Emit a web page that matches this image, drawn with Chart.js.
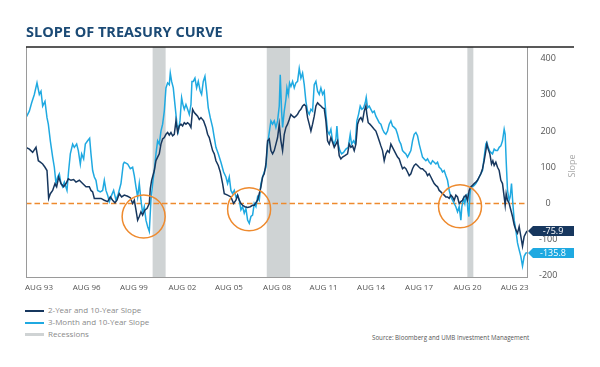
<!DOCTYPE html>
<html>
<head>
<meta charset="utf-8">
<script src="https://cdn.jsdelivr.net/npm/chart.js@4.4.0/dist/chart.umd.min.js"></script>
<style>
  body { margin: 0; background: #fff; }
  #wrap { position: relative; width: 600px; height: 367px; overflow: hidden; font-family: "Open Sans", sans-serif; }
  #title { position: absolute; left: 26px; top: 25px; margin: 0; font-size: 14.5px; line-height: 14.5px; font-weight: 700; color: #1b4a75; z-index: 2; }
  #chart { position: absolute; left: 0; top: 0; }
  .leg { position: absolute; left: 25px; font-size: 8px; line-height: 12px; color: #8a8a8a; white-space: nowrap; }
  .leg .sw { display: inline-block; width: 19px; height: 2px; vertical-align: middle; margin-right: 4px; }
  #source { position: absolute; left: 372px; top: 333px; font-size: 6.2px; color: #555; white-space: nowrap; }
</style>
</head>
<body>
<div id="wrap">
  <h1 id="title">SLOPE OF TREASURY CURVE</h1>
  <canvas id="chart" width="600" height="300"></canvas>
  <div class="leg" style="top:304px"><span class="sw" style="background:#17375e"></span>2-Year and 10-Year Slope</div>
  <div class="leg" style="top:316px"><span class="sw" style="background:#1fa9e1"></span>3-Month and 10-Year Slope</div>
  <div class="leg" style="top:328px"><span class="sw" style="background:#cfd3d4;height:3px"></span>Recessions</div>
  <div id="source">Source: Bloomberg and UMB Investment Management</div>
</div>
<script>
// 2-year / 10-year slope (bp)
const navyYears = [
  1993.58, 1993.78, 1993.98, 1994.18, 1994.32, 1994.44, 1994.58, 1994.72, 1994.84, 1994.94,
  1995.04, 1995.18, 1995.32, 1995.42, 1995.54, 1995.68, 1995.84, 1995.98, 1996.12, 1996.28,
  1996.44, 1996.58, 1996.78, 1996.98, 1997.18, 1997.38, 1997.48, 1997.58, 1997.68, 1997.88,
  1998.08, 1998.28, 1998.48, 1998.64, 1998.78, 1998.92, 1999.04, 1999.18, 1999.32, 1999.48,
  1999.68, 1999.84, 1999.98, 2000.08, 2000.18, 2000.28, 2000.38, 2000.48, 2000.58, 2000.72,
  2000.84, 2000.98, 2001.04, 2001.12, 2001.28, 2001.38, 2001.48, 2001.58, 2001.68, 2001.78,
  2001.88, 2001.98, 2002.08, 2002.18, 2002.28, 2002.38, 2002.48, 2002.58, 2002.68, 2002.78,
  2002.88, 2002.98, 2003.08, 2003.18, 2003.28, 2003.38, 2003.48, 2003.58, 2003.68, 2003.78,
  2003.88, 2003.98, 2004.08, 2004.24, 2004.38, 2004.48, 2004.58, 2004.68, 2004.78, 2004.88,
  2004.98, 2005.12, 2005.24, 2005.38, 2005.48,
  2005.68, 2005.88, 2006.04, 2006.18, 2006.28, 2006.38, 2006.48, 2006.58, 2006.72, 2006.88,
  2007.04, 2007.18, 2007.28, 2007.38, 2007.48, 2007.58, 2007.68, 2007.78, 2007.88, 2007.98,
  2008.08, 2008.18, 2008.28, 2008.38, 2008.48, 2008.58, 2008.68, 2008.78, 2008.88, 2008.98,
  2009.08, 2009.18, 2009.28, 2009.38, 2009.48, 2009.58, 2009.68, 2009.78, 2009.88, 2009.98,
  2010.08, 2010.18, 2010.28, 2010.38, 2010.48, 2010.58, 2010.68, 2010.78, 2010.88, 2010.98,
  2011.08, 2011.18, 2011.28, 2011.38, 2011.48,
  2011.58, 2011.68, 2011.78, 2011.88, 2011.98, 2012.08, 2012.18, 2012.28, 2012.38, 2012.48,
  2012.58, 2012.72, 2012.88, 2012.98, 2013.08, 2013.18, 2013.28, 2013.38, 2013.48, 2013.58,
  2013.68, 2013.78, 2013.88, 2013.98, 2014.04, 2014.12, 2014.22, 2014.32, 2014.48, 2014.58,
  2014.68, 2014.78, 2014.88, 2014.98, 2015.08, 2015.18, 2015.28, 2015.38, 2015.48, 2015.58,
  2015.68, 2015.78, 2015.88, 2015.98, 2016.08, 2016.18, 2016.28, 2016.38, 2016.48, 2016.58,
  2016.68, 2016.78, 2016.88, 2016.98, 2017.08, 2017.18, 2017.28, 2017.38, 2017.48,
  2017.58, 2017.68, 2017.78, 2017.88, 2017.98, 2018.08, 2018.18, 2018.28, 2018.38, 2018.48,
  2018.58, 2018.68, 2018.78, 2018.88, 2018.98, 2019.08, 2019.18, 2019.28, 2019.38, 2019.48,
  2019.58, 2019.68, 2019.78, 2019.88, 2019.98, 2020.08, 2020.18, 2020.28, 2020.38, 2020.48,
  2020.58, 2020.68, 2020.78, 2020.88, 2020.98, 2021.08, 2021.18, 2021.24, 2021.32, 2021.42,
  2021.52, 2021.60, 2021.68, 2021.78, 2021.88, 2021.98, 2022.08, 2022.18, 2022.28, 2022.34,
  2022.40, 2022.48, 2022.58, 2022.68, 2022.78, 2022.88, 2022.98, 2023.08, 2023.18, 2023.28,
  2023.38, 2023.48, 2023.58, 2023.65
];
const navyValues = [
  155, 150, 141, 155, 118, 114, 109, 100, 91, 14,
  27, 36, 55, 46, 73, 55, 46, 55, 68, 64,
  66, 59, 64, 55, 46, 46, 36, 32, 14, 14,
  14, 9, 5, 18, 9, 2, 9, 27, 18, 23,
  20, 16, 0, 9, -18, -46, -36, -23, -32, -18,
  -14, 0, 41, 64, 91, 118, 128, 137, 164, 178,
  182, 191, 196, 189, 196, 187, 191, 228, 196, 214,
  219, 214, 223, 219, 223, 219, 210, 260, 251, 246,
  241, 232, 237, 228, 210, 191, 182, 164, 146, 137,
  118, 105, 87, 55, 27,
  23, 18, 0, 9, 23, 9, 0, -5, -9, -11,
  -9, -5, -5, 2, 9, 27, 46, 73, 82, 109,
  173, 178, 146, 137, 146, 164, 182, 219, 173, 146,
  191, 210, 219, 232, 246, 241, 237, 241, 246, 255,
  260, 269, 273, 269, 237, 219, 200, 219, 241, 269,
  278, 273, 269, 264, 262,
  228, 173, 164, 182, 169, 155, 164, 173, 132, 123,
  128, 132, 137, 164, 155, 159, 146, 164, 219, 232,
  237, 228, 255, 269, 246, 223, 219, 214, 205, 200,
  187, 173, 159, 146, 118, 137, 146, 141, 164, 155,
  146, 137, 128, 123, 109, 96, 100, 96, 87, 77,
  82, 96, 105, 109, 105, 100, 96, 96, 91,
  87, 77, 82, 73, 64, 55, 50, 46, 36, 32,
  27, 23, 18, 18, 14, 23, 18, 9, 23, 18,
  0, 5, 9, 18, 23, 9, 36, 46, 50, 55,
  59, 64, 73, 82, 96, 118, 146, 164, 150, 137,
  109, 118, 105, 114, 100, 91, 64, 55, 18, -5,
  27, 9, 0, -18, -36, -59, -73, -82, -64, -91,
  -118, -91, -82, -75.9
];

// 3-month / 10-year slope (bp)
const blueYears = [
  1993.58, 1993.78, 1993.92, 1994.08, 1994.24, 1994.38, 1994.48, 1994.58, 1994.72, 1994.84,
  1994.92, 1995.04, 1995.18, 1995.28, 1995.38, 1995.48, 1995.58, 1995.68, 1995.78, 1995.88,
  1996.04, 1996.14, 1996.24, 1996.38, 1996.48, 1996.62, 1996.72, 1996.84, 1996.92, 1997.04,
  1997.14, 1997.28, 1997.40, 1997.48, 1997.58, 1997.68, 1997.78, 1997.88, 1998.04, 1998.18,
  1998.28, 1998.38, 1998.48, 1998.58, 1998.72, 1998.84, 1998.98, 1999.12, 1999.28, 1999.42,
  1999.48, 1999.68, 1999.84, 1999.98, 2000.08, 2000.18, 2000.28, 2000.38, 2000.48, 2000.58,
  2000.68, 2000.78, 2000.88, 2000.98, 2001.08, 2001.18, 2001.28, 2001.38, 2001.48, 2001.58,
  2001.68, 2001.78, 2001.88, 2001.98, 2002.08, 2002.18, 2002.24, 2002.32, 2002.42, 2002.52,
  2002.64, 2002.72, 2002.82, 2002.92, 2003.00, 2003.08, 2003.18, 2003.28, 2003.38, 2003.48,
  2003.54, 2003.62, 2003.72, 2003.82, 2003.92, 2004.04, 2004.12, 2004.22, 2004.32, 2004.42,
  2004.52, 2004.64, 2004.78, 2004.88, 2004.98, 2005.12, 2005.28, 2005.44,
  2005.58, 2005.68, 2005.78, 2005.88, 2005.98, 2006.08, 2006.18, 2006.28, 2006.38, 2006.48,
  2006.58, 2006.68, 2006.78, 2006.88, 2006.98, 2007.08, 2007.18, 2007.28, 2007.38, 2007.48,
  2007.58, 2007.68, 2007.78, 2007.88, 2007.98, 2008.08, 2008.18, 2008.28, 2008.38, 2008.48,
  2008.58, 2008.68, 2008.78, 2008.84, 2008.92, 2008.98, 2009.08, 2009.18, 2009.24, 2009.32,
  2009.40, 2009.48, 2009.58, 2009.68, 2009.78, 2009.88, 2009.98, 2010.08, 2010.18, 2010.28,
  2010.38, 2010.48, 2010.58, 2010.68, 2010.78, 2010.88, 2010.98, 2011.08, 2011.18, 2011.28,
  2011.38,
  2011.48, 2011.58, 2011.68, 2011.78, 2011.88, 2011.98, 2012.08, 2012.18, 2012.24, 2012.32,
  2012.42, 2012.52, 2012.64, 2012.78, 2012.92, 2013.04, 2013.12, 2013.24, 2013.34, 2013.44,
  2013.54, 2013.64, 2013.74, 2013.84, 2013.94, 2014.00, 2014.08, 2014.18, 2014.28, 2014.38,
  2014.48, 2014.58, 2014.68, 2014.78, 2014.88, 2014.98, 2015.08, 2015.18, 2015.28, 2015.38,
  2015.48, 2015.58, 2015.68, 2015.78, 2015.88, 2015.98, 2016.08, 2016.18, 2016.28, 2016.38,
  2016.48, 2016.58, 2016.68, 2016.78, 2016.88, 2016.98, 2017.08, 2017.18, 2017.28, 2017.38,
  2017.48, 2017.58, 2017.68, 2017.78, 2017.88, 2017.98, 2018.08, 2018.18, 2018.28, 2018.38,
  2018.48, 2018.58, 2018.68, 2018.78, 2018.88, 2018.98, 2019.08, 2019.18, 2019.28, 2019.38,
  2019.48, 2019.58, 2019.68, 2019.74, 2019.84, 2019.92, 2019.98, 2020.04, 2020.10, 2020.16,
  2020.22, 2020.28, 2020.38, 2020.48, 2020.58, 2020.68, 2020.78, 2020.88, 2020.98, 2021.08,
  2021.18, 2021.24, 2021.32, 2021.40, 2021.48, 2021.58, 2021.68, 2021.78, 2021.88, 2021.98,
  2022.08, 2022.18, 2022.28, 2022.34, 2022.40, 2022.48, 2022.58, 2022.64, 2022.72, 2022.80,
  2022.88, 2022.98, 2023.08, 2023.18, 2023.28, 2023.38, 2023.48, 2023.58, 2023.65
];
const blueValues = [
  237, 255, 278, 301, 333, 301, 310, 269, 282, 237,
  219, 173, 128, 100, 55, 73, 82, 55, 46, 59,
  36, 91, 137, 164, 155, 164, 146, 109, 137, 123,
  164, 173, 180, 137, 91, 73, 64, 36, 32, 36,
  64, 36, 23, 5, 23, 36, 9, 27, 55, 109,
  114, 109, 96, 100, 77, 46, 18, 55, 9, -27,
  -9, -46, -64, -77, 9, 55, 91, 137, 173, 164,
  200, 219, 255, 319, 333, 328, 360, 337, 319, 273,
  219, 200, 228, 292, 273, 260, 273, 260, 246, 273,
  337, 337, 346, 319, 337, 310, 301, 337, 351, 310,
  264, 237, 210, 182, 155, 137, 114, 87,
  73, 55, 73, 36, 27, 36, 18, 23, 9, -18,
  -9, -27, -14, -46, -55, -36, -32, 0, -9, 18,
  9, 55, 73, 87, 100, 164, 196, 228, 219, 228,
  210, 228, 269, 355, 255, 210, 255, 287, 319, 301,
  333, 323, 337, 319, 333, 337, 373, 346, 360, 328,
  282, 255, 246, 260, 255, 328, 337, 310, 301, 319,
  301,
  310, 246, 200, 191, 205, 173, 164, 178, 214, 164,
  146, 137, 141, 150, 155, 191, 164, 173, 164, 228,
  246, 269, 260, 264, 278, 293, 264, 269, 260, 251,
  255, 241, 232, 223, 219, 205, 196, 191, 200, 219,
  228, 214, 210, 205, 191, 173, 164, 146, 141, 137,
  128, 137, 146, 173, 191, 196, 187, 164, 146, 128,
  123, 118, 123, 114, 109, 118, 114, 109, 114, 100,
  96, 87, 91, 77, 64, 36, 18, 9, 0, -9,
  -23, -9, -46, -9, 14, 0, 18, 23, -18, -36,
  23, 46, 46, 50, 55, 64, 73, 82, 91, 128,
  164, 169, 155, 146, 141, 137, 150, 146, 146, 155,
  159, 173, 205, 191, 118, 36, 9, 18, 55, 0,
  -46, -73, -109, -128, -146, -173, -146, -137, -135.8
];

const recessionStarts = [2001.18, 2008.03, 2020.07];
const recessionEnds = [2001.96, 2009.43, 2020.43];

const tickYears = [1994.36, 1997.22, 2000.06, 2002.97, 2005.76, 2008.65, 2011.44, 2014.29, 2017.17, 2020.08, 2022.91];
const tickLabels = ['AUG 93', 'AUG 96', 'AUG 99', 'AUG 02', 'AUG 05', 'AUG 08', 'AUG 11', 'AUG 14', 'AUG 17', 'AUG 20', 'AUG 23'];
const yTicks = [-200, -100, 0, 100, 200, 300, 400];

// inversion circles
const circleYears = [2000.64, 2006.97, 2019.63];
const circleValues = [-36, -16, -8];

const xMin = 1993.58, xMax = 2023.65;
const NAVY = '#17375e', BLUE = '#1fa9e1', ORANGE = '#ee8a2e';

if (navyYears.length !== navyValues.length) throw new Error('navy ' + navyYears.length + ' vs ' + navyValues.length);
if (blueYears.length !== blueValues.length) throw new Error('blue ' + blueYears.length + ' vs ' + blueValues.length);

const pts = (xs, ys) => xs.map((x, i) => ({x: x, y: ys[i]}));

const recessionPlugin = {
  id: 'recessions',
  beforeDatasetsDraw(chart) {
    const {ctx, chartArea, scales} = chart;
    ctx.save();
    ctx.fillStyle = '#cfd3d4';
    for (let i = 0; i < recessionStarts.length; i++) {
      const x0 = scales.x.getPixelForValue(recessionStarts[i]);
      const x1 = scales.x.getPixelForValue(recessionEnds[i]);
      ctx.fillRect(x0, chartArea.top, x1 - x0, chartArea.bottom - chartArea.top);
    }
    ctx.restore();
  }
};

const framePlugin = {
  id: 'frame',
  afterDraw(chart) {
    const {ctx, chartArea} = chart;
    ctx.save();
    // left border
    ctx.strokeStyle = '#9a9a9a';
    ctx.lineWidth = 1;
    ctx.beginPath();
    ctx.moveTo(chartArea.left + 0.5, chartArea.top);
    ctx.lineTo(chartArea.left + 0.5, chartArea.bottom);
    ctx.stroke();
    // top rule
    ctx.strokeStyle = '#222';
    ctx.lineWidth = 1.5;
    ctx.beginPath();
    ctx.moveTo(chartArea.left, chartArea.top);
    ctx.lineTo(574, chartArea.top);
    ctx.stroke();
    // axis title
    ctx.fillStyle = '#a8a8a8';
    ctx.font = '9px "Open Sans"';
    ctx.textAlign = 'center';
    ctx.textBaseline = 'middle';
    ctx.translate(572, 166);
    ctx.rotate(-Math.PI / 2);
    ctx.fillText('Slope', 0, 0);
    ctx.restore();

    // last-value tags
    const tags = [[1, NAVY], [2, BLUE]];
    tags.forEach(([idx, col]) => {
      const meta = chart.getDatasetMeta(idx);
      const last = meta.data[meta.data.length - 1];
      const val = chart.data.datasets[idx].data[meta.data.length - 1].y;
      const y = Math.round(last.y);
      const xr = chartArea.right;
      ctx.save();
      ctx.fillStyle = col;
      ctx.beginPath();
      ctx.moveTo(xr + 1, y);
      ctx.lineTo(xr + 6, y - 5);
      ctx.lineTo(574, y - 5);
      ctx.lineTo(574, y + 5);
      ctx.lineTo(xr + 6, y + 5);
      ctx.closePath();
      ctx.fill();
      ctx.fillStyle = '#fff';
      ctx.font = '9px "Open Sans"';
      ctx.textAlign = 'center';
      ctx.textBaseline = 'middle';
      ctx.fillText(val.toFixed(1), 553, y + 0.5);
      ctx.restore();
    });
  }
};

new Chart(document.getElementById('chart'), {
  type: 'line',
  data: {
    datasets: [
      {
        type: 'scatter',
        data: pts(circleYears, circleValues),
        pointRadius: 21.5,
        pointHoverRadius: 21.5,
        pointBorderWidth: 1.5,
        pointBorderColor: ORANGE,
        pointBackgroundColor: 'rgba(0,0,0,0)'
      },
      {
        label: '2-Year and 10-Year Slope',
        data: pts(navyYears, navyValues),
        borderColor: NAVY,
        borderWidth: 1.5,
        pointRadius: 0,
        tension: 0
      },
      {
        label: '3-Month and 10-Year Slope',
        data: pts(blueYears, blueValues),
        borderColor: BLUE,
        borderWidth: 1.5,
        pointRadius: 0,
        tension: 0
      },
      {
        data: [{x: xMin, y: 0}, {x: xMax, y: 0}],
        borderColor: ORANGE,
        borderWidth: 1.5,
        borderDash: [5.5, 3],
        pointRadius: 0
      }
    ]
  },
  options: {
    responsive: false,
    animation: false,
    layout: { padding: { left: 26, top: 47, right: 0, bottom: 0 } },
    plugins: { legend: { display: false }, tooltip: { enabled: false } },
    scales: {
      x: {
        type: 'linear',
        min: xMin,
        max: xMax,
        grid: { display: false, drawTicks: false },
        border: { display: true, color: '#9a9a9a', width: 1 },
        afterBuildTicks: (scale) => { scale.ticks = tickYears.map(v => ({value: v})); },
        afterFit: (scale) => { scale.height = 21; },
        ticks: {
          autoSkip: false,
          maxRotation: 0,
          padding: 6,
          color: '#555',
          font: { family: 'Open Sans', size: 8 },
          callback: (v, i) => tickLabels[i]
        }
      },
      y: {
        position: 'right',
        min: -203,
        max: 432,
        grid: { display: false, drawTicks: false },
        border: { display: true, color: '#9a9a9a', width: 1 },
        afterBuildTicks: (scale) => { scale.ticks = yTicks.map(v => ({value: v})); },
        afterFit: (scale) => { scale.width = 73; },
        ticks: {
          crossAlign: 'center',
          padding: 12,
          color: '#555',
          font: { family: 'Open Sans', size: 9 }
        }
      }
    }
  },
  plugins: [recessionPlugin, framePlugin]
});
</script>
</body>
</html>
